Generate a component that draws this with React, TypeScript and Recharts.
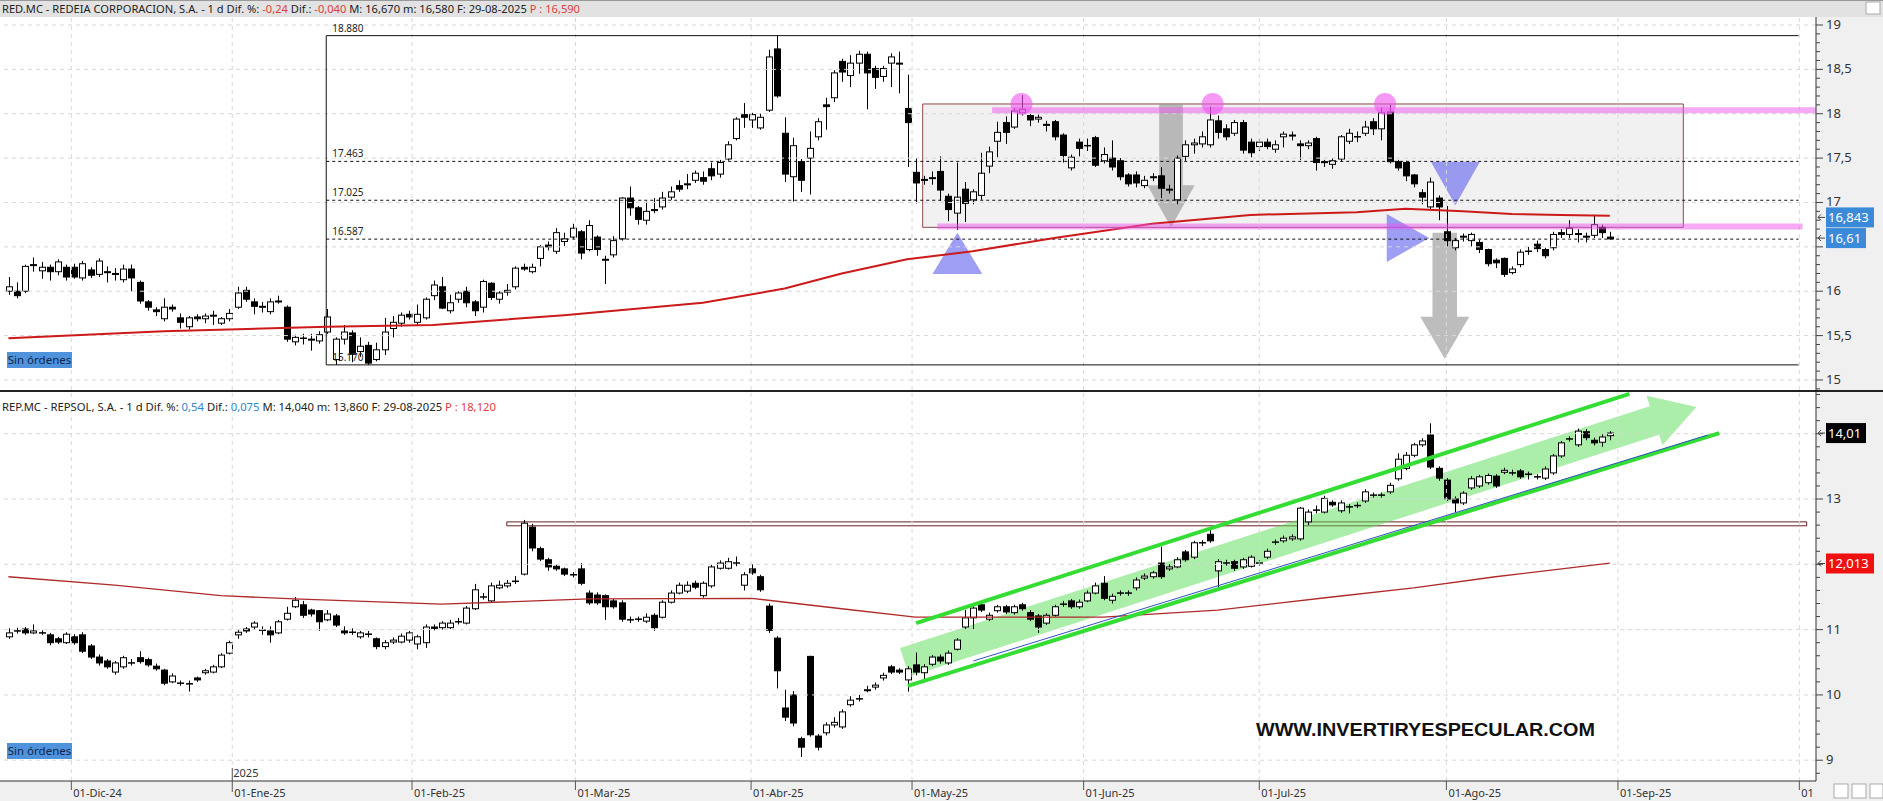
import React from "react";
import {
  ComposedChart,
  Bar,
  Line,
  XAxis,
  YAxis,
  ReferenceLine,
  ReferenceArea,
  ReferenceDot,
} from "recharts";

type Ohlc = [number, number, number, number]; // open, close, high, low

// RED.MC - REDEIA, daily candles by month
const RED_NOV: Ohlc[] = [
  [16.0, 16.05, 16.16, 15.96], [16.0, 15.95, 16.1, 15.92], [16.0, 16.28, 16.3, 15.98], [16.29, 16.3, 16.38, 16.22],
  [16.23, 16.27, 16.33, 16.14], [16.27, 16.22, 16.3, 16.12], [16.22, 16.33, 16.36, 16.18],
];
const RED_DEC: Ohlc[] = [
  [16.27, 16.16, 16.3, 16.12], [16.27, 16.16, 16.31, 16.14], [16.15, 16.31, 16.34, 16.12], [16.24, 16.18, 16.27, 16.15],
  [16.19, 16.34, 16.37, 16.16], [16.22, 16.21, 16.28, 16.1], [16.2, 16.19, 16.26, 16.12], [16.13, 16.25, 16.3, 16.1],
  [16.25, 16.15, 16.3, 16.0], [16.1, 15.89, 16.12, 15.86], [15.88, 15.82, 15.9, 15.78], [15.79, 15.77, 15.82, 15.72],
  [15.69, 15.82, 15.92, 15.66], [15.82, 15.8, 15.85, 15.77], [15.7, 15.65, 15.75, 15.58], [15.6, 15.7, 15.72, 15.57],
  [15.71, 15.69, 15.74, 15.66], [15.69, 15.72, 15.75, 15.64], [15.72, 15.73, 15.78, 15.62], [15.64, 15.69, 15.71, 15.62],
];
const RED_JAN: Ohlc[] = [
  [15.69, 15.75, 15.8, 15.66], [15.82, 15.98, 16.05, 15.8], [16.01, 15.91, 16.05, 15.88], [15.88, 15.83, 15.92, 15.74],
  [15.82, 15.83, 15.88, 15.76], [15.77, 15.88, 15.92, 15.74], [15.89, 15.88, 15.95, 15.86], [15.82, 15.46, 15.84, 15.43],
  [15.43, 15.48, 15.51, 15.39], [15.47, 15.47, 15.52, 15.4], [15.45, 15.46, 15.52, 15.33], [15.44, 15.51, 15.55, 15.41],
  [15.54, 15.71, 15.8, 15.52], [15.23, 15.46, 15.48, 15.17], [15.46, 15.54, 15.62, 15.4], [15.53, 15.29, 15.56, 15.2],
  [15.32, 15.38, 15.48, 15.26], [15.39, 15.19, 15.43, 15.17], [15.23, 15.34, 15.42, 15.21], [15.34, 15.54, 15.7, 15.28],
  [15.58, 15.65, 15.72, 15.48], [15.64, 15.73, 15.76, 15.6],
];
const RED_FEB: Ohlc[] = [
  [15.74, 15.71, 15.78, 15.68], [15.65, 15.74, 15.85, 15.62], [15.7, 15.91, 15.93, 15.68], [15.95, 16.07, 16.12, 15.9],
  [16.05, 15.81, 16.16, 15.8], [15.78, 15.87, 15.96, 15.75], [15.91, 15.98, 16.0, 15.87], [16.0, 15.87, 16.05, 15.82],
  [15.88, 15.78, 15.9, 15.72], [15.82, 16.11, 16.13, 15.76], [16.09, 15.93, 16.1, 15.9], [15.91, 15.98, 16.0, 15.86],
  [15.99, 16.01, 16.08, 15.95], [16.05, 16.26, 16.28, 16.02], [16.27, 16.25, 16.31, 16.23], [16.22, 16.27, 16.31, 16.2],
  [16.37, 16.5, 16.52, 16.28], [16.52, 16.5, 16.56, 16.46], [16.45, 16.66, 16.71, 16.42], [16.56, 16.59, 16.66, 16.51],
];
const RED_MAR: Ohlc[] = [
  [16.61, 16.71, 16.76, 16.59], [16.67, 16.43, 16.69, 16.36], [16.47, 16.74, 16.8, 16.45], [16.61, 16.47, 16.63, 16.4],
  [16.35, 16.36, 16.4, 16.08], [16.41, 16.57, 16.62, 16.38], [16.59, 17.05, 17.06, 16.57], [17.05, 16.94, 17.18, 16.85],
  [16.94, 16.81, 16.96, 16.75], [16.8, 16.9, 17.01, 16.75], [16.91, 16.92, 17.05, 16.88], [16.95, 17.05, 17.12, 16.92],
  [17.06, 17.12, 17.18, 17.03], [17.19, 17.15, 17.25, 17.12], [17.21, 17.2, 17.32, 17.15], [17.25, 17.33, 17.36, 17.22],
  [17.28, 17.24, 17.35, 17.2], [17.38, 17.3, 17.45, 17.25], [17.32, 17.45, 17.48, 17.28], [17.49, 17.65, 17.69, 17.47],
  [17.72, 17.94, 17.96, 17.7],
];
const RED_APR: Ohlc[] = [
  [17.99, 17.96, 18.12, 17.84], [17.93, 17.99, 18.01, 17.84], [17.84, 17.96, 18.0, 17.82], [18.04, 18.64, 18.72, 18.02],
  [18.73, 18.2, 18.88, 18.18], [17.78, 17.32, 17.96, 17.23], [17.29, 17.64, 17.73, 17.01], [17.46, 17.25, 17.49, 17.12],
  [17.5, 17.61, 17.8, 17.09], [17.74, 17.91, 17.95, 17.7], [18.1, 18.08, 18.18, 17.82], [18.18, 18.46, 18.49, 18.13],
  [18.59, 18.47, 18.62, 18.36], [18.43, 18.57, 18.66, 18.3], [18.57, 18.67, 18.71, 18.45], [18.67, 18.46, 18.7, 18.05],
  [18.51, 18.41, 18.54, 18.28], [18.42, 18.51, 18.54, 18.36], [18.57, 18.64, 18.68, 18.3], [18.56, 18.57, 18.7, 18.23],
];
const RED_MAY: Ohlc[] = [
  [18.06, 17.9, 18.44, 17.4], [17.34, 17.22, 17.5, 16.99], [17.25, 17.26, 17.3, 17.2], [17.27, 17.28, 17.35, 17.2],
  [17.35, 17.14, 17.52, 17.02], [17.07, 16.92, 17.1, 16.79], [16.88, 17.06, 17.45, 16.69], [17.15, 16.99, 17.23, 16.78],
  [17.03, 17.12, 17.15, 16.98], [17.08, 17.33, 17.56, 17.03], [17.41, 17.57, 17.63, 17.33], [17.69, 17.79, 17.91, 17.51],
  [17.9, 17.79, 17.97, 17.66], [17.85, 18.03, 18.06, 17.83], [18.01, 18.05, 18.21, 17.98], [17.98, 17.93, 18.0, 17.86],
  [17.94, 17.96, 17.99, 17.9], [17.87, 17.88, 17.92, 17.8], [17.91, 17.74, 17.93, 17.7], [17.76, 17.53, 17.78, 17.45],
  [17.39, 17.51, 17.54, 17.36],
];
const RED_JUN: Ohlc[] = [
  [17.68, 17.61, 17.72, 17.52], [17.64, 17.64, 17.72, 17.58], [17.73, 17.42, 17.75, 17.4], [17.47, 17.54, 17.62, 17.44],
  [17.5, 17.4, 17.7, 17.36], [17.47, 17.29, 17.5, 17.25], [17.31, 17.21, 17.33, 17.18], [17.31, 17.22, 17.35, 17.17],
  [17.19, 17.25, 17.3, 17.16], [17.29, 17.28, 17.33, 17.24], [17.3, 17.16, 17.4, 17.05], [17.14, 17.15, 17.2, 17.1],
  [17.03, 17.5, 17.53, 16.98], [17.52, 17.65, 17.7, 17.47], [17.65, 17.67, 17.72, 17.55], [17.66, 17.74, 17.8, 17.62],
  [17.65, 17.93, 18.08, 17.62], [17.92, 17.79, 17.98, 17.72], [17.83, 17.74, 17.88, 17.7], [17.78, 17.9, 17.93, 17.75],
  [17.9, 17.59, 17.93, 17.55],
];
const RED_JUL: Ohlc[] = [
  [17.68, 17.56, 17.72, 17.51], [17.63, 17.68, 17.72, 17.58], [17.68, 17.63, 17.72, 17.6], [17.6, 17.65, 17.7, 17.56],
  [17.74, 17.77, 17.8, 17.62], [17.75, 17.76, 17.8, 17.7], [17.66, 17.64, 17.7, 17.48], [17.64, 17.67, 17.7, 17.6],
  [17.72, 17.45, 17.74, 17.36], [17.46, 17.45, 17.48, 17.4], [17.43, 17.47, 17.5, 17.38], [17.49, 17.74, 17.76, 17.46],
  [17.69, 17.78, 17.83, 17.66], [17.74, 17.74, 17.8, 17.68], [17.78, 17.85, 17.92, 17.75], [17.91, 17.83, 17.95, 17.76],
  [17.83, 18.01, 18.07, 17.7], [18.02, 17.46, 18.1, 17.44], [17.46, 17.39, 17.48, 17.36], [17.45, 17.3, 17.47, 17.24],
  [17.31, 17.21, 17.32, 17.17], [17.11, 17.06, 17.15, 16.98], [16.95, 17.23, 17.28, 16.92],
];
const RED_AUG: Ohlc[] = [
  [17.05, 16.95, 17.08, 16.8], [16.67, 16.57, 16.96, 16.5], [16.49, 16.57, 16.6, 16.46], [16.61, 16.62, 16.65, 16.56],
  [16.57, 16.64, 16.66, 16.5], [16.55, 16.47, 16.58, 16.43], [16.47, 16.31, 16.48, 16.28], [16.35, 16.32, 16.37, 16.26],
  [16.37, 16.19, 16.38, 16.16], [16.21, 16.25, 16.28, 16.19], [16.3, 16.44, 16.47, 16.27], [16.45, 16.45, 16.5, 16.41],
  [16.53, 16.48, 16.57, 16.44], [16.47, 16.4, 16.49, 16.37], [16.49, 16.64, 16.67, 16.46], [16.66, 16.64, 16.7, 16.6],
  [16.64, 16.71, 16.8, 16.6], [16.64, 16.65, 16.7, 16.55], [16.61, 16.62, 16.66, 16.55], [16.63, 16.75, 16.86, 16.6],
  [16.72, 16.66, 16.75, 16.6], [16.61, 16.59, 16.67, 16.58],
];

// REP.MC - REPSOL, daily candles by month
const REP_NOV: Ohlc[] = [
  [10.89, 10.95, 11.02, 10.86], [10.98, 10.98, 11.03, 10.94], [11.01, 10.95, 11.04, 10.92], [10.95, 10.98, 11.08, 10.93],
  [10.95, 10.95, 10.99, 10.92], [10.92, 10.8, 10.95, 10.76], [10.86, 10.81, 10.89, 10.78],
];
const REP_DEC: Ohlc[] = [
  [10.8, 10.93, 10.96, 10.78], [10.89, 10.8, 10.93, 10.77], [10.92, 10.67, 10.96, 10.64], [10.75, 10.58, 10.78, 10.55],
  [10.58, 10.49, 10.62, 10.45], [10.52, 10.43, 10.55, 10.4], [10.35, 10.49, 10.52, 10.31], [10.43, 10.57, 10.6, 10.4],
  [10.49, 10.49, 10.55, 10.45], [10.57, 10.51, 10.67, 10.48], [10.54, 10.46, 10.57, 10.43], [10.44, 10.4, 10.48, 10.37],
  [10.38, 10.18, 10.4, 10.15], [10.2, 10.29, 10.33, 10.18], [10.18, 10.18, 10.22, 10.14], [10.17, 10.17, 10.22, 10.05],
  [10.26, 10.23, 10.28, 10.2], [10.34, 10.37, 10.4, 10.31], [10.35, 10.43, 10.46, 10.33], [10.43, 10.61, 10.64, 10.41],
];
const REP_JAN: Ohlc[] = [
  [10.64, 10.8, 10.83, 10.62], [10.92, 10.96, 11.0, 10.86], [11.01, 10.98, 11.04, 10.95], [11.04, 11.1, 11.13, 11.0],
  [10.99, 10.99, 11.05, 10.92], [10.98, 10.92, 11.05, 10.8], [10.95, 11.12, 11.15, 10.93], [11.16, 11.25, 11.35, 11.14],
  [11.35, 11.45, 11.5, 11.33], [11.38, 11.22, 11.44, 11.18], [11.3, 11.24, 11.32, 11.2], [11.29, 11.12, 11.3, 10.98],
  [11.15, 11.24, 11.3, 11.13], [11.21, 11.07, 11.24, 11.04], [10.98, 10.95, 11.05, 10.92], [10.96, 10.96, 11.02, 10.92],
  [10.89, 10.95, 10.98, 10.86], [10.93, 10.93, 10.98, 10.88], [10.86, 10.74, 10.88, 10.7], [10.74, 10.8, 10.84, 10.7],
  [10.81, 10.84, 10.88, 10.78], [10.81, 10.9, 10.94, 10.79],
];
const REP_FEB: Ohlc[] = [
  [10.84, 10.95, 10.98, 10.8], [10.78, 10.89, 10.92, 10.7], [10.8, 11.04, 11.08, 10.72], [11.04, 11.02, 11.08, 10.99],
  [11.03, 11.1, 11.13, 11.0], [11.03, 11.1, 11.15, 11.01], [11.12, 11.12, 11.18, 11.08], [11.1, 11.33, 11.36, 11.08],
  [11.32, 11.61, 11.7, 11.3], [11.5, 11.5, 11.56, 11.46], [11.44, 11.67, 11.72, 11.42], [11.64, 11.68, 11.75, 11.62],
  [11.67, 11.71, 11.76, 11.64], [11.74, 11.74, 11.82, 11.7], [11.85, 12.63, 12.68, 11.83], [12.57, 12.25, 12.62, 12.2],
  [12.24, 12.08, 12.27, 12.05], [12.07, 11.96, 12.1, 11.9], [11.97, 11.93, 12.0, 11.9], [11.93, 11.85, 11.95, 11.82],
];
const REP_MAR: Ohlc[] = [
  [11.84, 11.84, 11.88, 11.8], [11.93, 11.71, 12.02, 11.68], [11.56, 11.41, 11.6, 11.38], [11.53, 11.41, 11.57, 11.38],
  [11.52, 11.35, 11.54, 11.15], [11.44, 11.35, 11.47, 11.32], [11.41, 11.16, 11.45, 11.12], [11.15, 11.15, 11.2, 11.1],
  [11.16, 11.16, 11.2, 11.12], [11.13, 11.19, 11.25, 11.1], [11.22, 11.03, 11.25, 10.98], [11.19, 11.42, 11.45, 11.17],
  [11.42, 11.56, 11.6, 11.4], [11.56, 11.68, 11.72, 11.54], [11.59, 11.68, 11.74, 11.56], [11.71, 11.65, 11.75, 11.62],
  [11.52, 11.71, 11.74, 11.49], [11.67, 11.96, 11.99, 11.64], [11.94, 12.02, 12.06, 11.92], [11.94, 12.04, 12.1, 11.92],
  [12.02, 12.02, 12.12, 11.97],
];
const REP_APR: Ohlc[] = [
  [11.68, 11.84, 11.88, 11.6], [11.93, 11.87, 12.0, 11.84], [11.81, 11.61, 11.84, 11.58], [11.36, 10.99, 11.4, 10.95],
  [10.87, 10.37, 10.9, 10.1], [9.8, 9.66, 10.08, 9.6], [10.0, 9.57, 10.06, 9.52], [9.33, 9.2, 9.36, 9.05],
  [10.59, 9.39, 10.6, 9.36], [9.37, 9.2, 9.4, 9.15], [9.42, 9.54, 9.58, 9.38], [9.54, 9.58, 9.66, 9.5],
  [9.51, 9.74, 9.78, 9.48], [9.85, 9.92, 9.98, 9.82], [9.94, 9.94, 10.0, 9.9], [10.07, 10.08, 10.14, 10.04],
  [10.12, 10.15, 10.19, 10.08], [10.26, 10.3, 10.34, 10.22], [10.43, 10.35, 10.46, 10.32], [10.38, 10.35, 10.41, 10.32],
];
const REP_MAY: Ohlc[] = [
  [10.23, 10.4, 10.44, 10.05], [10.46, 10.35, 10.65, 10.3], [10.34, 10.43, 10.47, 10.2], [10.47, 10.58, 10.61, 10.44],
  [10.58, 10.52, 10.62, 10.48], [10.49, 10.64, 10.68, 10.46], [10.7, 10.84, 10.87, 10.68], [11.04, 11.18, 11.3, 11.0],
  [11.18, 11.33, 11.4, 11.0], [11.38, 11.3, 11.42, 11.27], [11.16, 11.22, 11.26, 11.13], [11.29, 11.35, 11.38, 11.26],
  [11.35, 11.27, 11.38, 11.24], [11.26, 11.35, 11.38, 11.23], [11.38, 11.32, 11.41, 11.29], [11.26, 11.16, 11.3, 11.13],
  [11.21, 11.04, 11.24, 10.95], [11.1, 11.22, 11.25, 11.07], [11.22, 11.35, 11.38, 11.2], [11.39, 11.39, 11.44, 11.35],
  [11.44, 11.35, 11.47, 11.32],
];
const REP_JUN: Ohlc[] = [
  [11.35, 11.42, 11.46, 11.32], [11.44, 11.56, 11.6, 11.42], [11.56, 11.67, 11.72, 11.54], [11.71, 11.48, 11.82, 11.45],
  [11.45, 11.51, 11.55, 11.4], [11.56, 11.56, 11.6, 11.52], [11.56, 11.56, 11.6, 11.52], [11.64, 11.76, 11.8, 11.6],
  [11.79, 11.82, 11.86, 11.76], [11.81, 11.87, 11.9, 11.78], [12.02, 11.81, 12.27, 11.78], [11.93, 11.96, 12.0, 11.9],
  [11.96, 12.07, 12.11, 11.94], [12.19, 12.07, 12.22, 12.04], [12.11, 12.33, 12.36, 12.08], [12.33, 12.33, 12.37, 12.28],
  [12.46, 12.36, 12.55, 12.33], [11.9, 12.04, 12.08, 11.65], [12.02, 12.02, 12.07, 11.98], [12.04, 11.94, 12.07, 11.9],
  [11.96, 12.07, 12.1, 11.93],
];
const REP_JUL: Ohlc[] = [
  [11.97, 12.11, 12.14, 11.95], [12.02, 12.02, 12.06, 11.98], [12.11, 12.2, 12.24, 12.08], [12.34, 12.34, 12.38, 12.3],
  [12.36, 12.4, 12.44, 12.33], [12.39, 12.42, 12.46, 12.36], [12.39, 12.86, 12.88, 12.36], [12.65, 12.8, 12.84, 12.6],
  [12.83, 12.83, 12.9, 12.78], [12.8, 13.01, 13.05, 12.78], [12.95, 12.91, 12.98, 12.88], [12.82, 12.94, 12.98, 12.79],
  [12.88, 12.88, 12.92, 12.78], [12.9, 12.9, 12.95, 12.86], [12.97, 13.11, 13.15, 12.94], [13.06, 13.06, 13.1, 13.02],
  [13.06, 13.06, 13.1, 13.02], [13.11, 13.21, 13.25, 13.08], [13.31, 13.61, 13.7, 13.28], [13.47, 13.67, 13.72, 13.44],
  [13.67, 13.83, 13.86, 13.64], [13.83, 13.89, 13.93, 13.8], [13.98, 13.49, 14.16, 13.46],
];
const REP_AUG: Ohlc[] = [
  [13.47, 13.32, 13.5, 13.28], [13.29, 13.0, 13.32, 12.97], [13.0, 12.94, 13.04, 12.8], [12.94, 13.09, 13.12, 12.91],
  [13.17, 13.31, 13.35, 13.14], [13.2, 13.34, 13.37, 13.17], [13.25, 13.36, 13.39, 13.22], [13.35, 13.2, 13.38, 13.17],
  [13.41, 13.44, 13.48, 13.38], [13.4, 13.4, 13.45, 13.36], [13.43, 13.34, 13.46, 13.31], [13.38, 13.38, 13.42, 13.3],
  [13.34, 13.34, 13.38, 13.3], [13.32, 13.46, 13.5, 13.29], [13.4, 13.66, 13.69, 13.37], [13.66, 13.86, 13.89, 13.63],
  [13.92, 13.92, 13.96, 13.88], [13.83, 14.04, 14.08, 13.8], [14.03, 13.94, 14.07, 13.9], [13.9, 13.86, 13.94, 13.82],
  [13.87, 13.95, 13.99, 13.8], [13.97, 14.01, 14.04, 13.9],
];

// moving averages, [candle index, value]
const RED_MA: [number, number][] = [
  [0, 15.47], [19, 15.55], [39, 15.6], [52, 15.62], [68, 15.73], [85, 15.87], [95, 16.03], [102, 16.2],
  [110, 16.36], [118, 16.45], [128, 16.6], [140, 16.76], [152, 16.86], [165, 16.89], [171, 16.93],
  [178, 16.9], [184, 16.87], [190, 16.86], [196, 16.85],
];
const REP_MA: [number, number][] = [
  [0, 11.81], [13, 11.68], [26, 11.52], [35, 11.47], [53, 11.39], [71, 11.47], [91, 11.48], [93, 11.45],
  [102, 11.32], [111, 11.19], [114, 11.19], [134, 11.19], [148, 11.3], [162, 11.5], [172, 11.64],
  [182, 11.81], [196, 12.02],
];

const MONTH_TICKS = [7.7, 27.4, 49.4, 69.4, 90.9, 110.6, 131.6, 153.1, 176, 197, 219.2];
const MONTH_LABELS = [
  "01-Dic-24", "01-Ene-25", "01-Feb-25", "01-Mar-25", "01-Abr-25", "01-May-25",
  "01-Jun-25", "01-Jul-25", "01-Ago-25", "01-Sep-25", "01",
];
const RED_Y_TICKS = [15, 15.5, 16, 16.5, 17, 17.5, 18, 18.5, 19];
const RED_Y_HIDDEN = [16.5]; // covered by the value tags
const REP_Y_TICKS = [9, 10, 11, 12, 13, 14];
const REP_Y_HIDDEN = [12, 14]; // covered by the value tags
const FIB_LEVELS = [18.88, 17.463, 17.025, 16.587, 15.17];

const FONT = "'Noto Sans', 'Open Sans', sans-serif";
const WIDTH = 1883;
const AXIS_W = 67;
const X_DOMAIN: [number, number] = [-1.03, 221.24];
const RED_DOMAIN: [number, number] = [14.887, 19.09];
const REP_DOMAIN: [number, number] = [8.682, 14.639];

type Row = { i: number; o: number; c: number; h: number; l: number; ma: number | null };

function buildRows(candles: Ohlc[], ma: [number, number][]): Row[] {
  const maAt = new Map(ma);
  return candles.map(([o, c, h, l], i) => ({ i, o, c, h, l, ma: maAt.get(i) ?? null }));
}

const redRows = buildRows(
  [...RED_NOV, ...RED_DEC, ...RED_JAN, ...RED_FEB, ...RED_MAR, ...RED_APR, ...RED_MAY, ...RED_JUN, ...RED_JUL, ...RED_AUG],
  RED_MA
);
const repRows = buildRows(
  [...REP_NOV, ...REP_DEC, ...REP_JAN, ...REP_FEB, ...REP_MAR, ...REP_APR, ...REP_MAY, ...REP_JUN, ...REP_JUL, ...REP_AUG],
  REP_MA
);

function minorTicks(from: number, to: number, step: number) {
  const out: number[] = [];
  for (let k = Math.ceil(from / step - 1e-9); k * step <= to + 1e-9; k++) out.push(+(k * step).toFixed(2));
  return out;
}
const redTicks = minorTicks(14.9, 19.0, 0.1);
const repTicks = minorTicks(8.8, 14.6, 0.2);

const fmt = (v: number) => String(v).replace(".", ",");

function Candle(props: any) {
  const { x, width, payload } = props;
  let { y, height } = props;
  if (!payload || y == null) return null;
  if (height < 0) {
    y += height;
    height = -height;
  }
  const { o, c, h, l } = payload as Row;
  const cx = Math.round(x + width / 2) + 0.5;
  const k = h > l ? height / (h - l) : 0;
  const py = (v: number) => y + (h - v) * k;
  const top = py(Math.max(o, c));
  const bot = py(Math.min(o, c));
  const flat = Math.abs(c - o) < 0.005;
  return (
    <g>
      <line x1={cx} x2={cx} y1={y} y2={y + height} stroke="#000" strokeWidth={1} />
      {flat ? (
        <line x1={cx - 3.5} x2={cx + 3.5} y1={top} y2={top} stroke="#000" strokeWidth={1.5} />
      ) : (
        <rect
          x={cx - 3}
          y={top}
          width={6}
          height={Math.max(bot - top, 1)}
          fill={c > o ? "#fff" : "#000"}
          stroke="#000"
          strokeWidth={1}
        />
      )}
    </g>
  );
}

function YTick(props: any) {
  const { x, y, payload, majors, hidden = [] } = props;
  const v = payload.value as number;
  const major = majors.some((m: number) => Math.abs(m - v) < 1e-6);
  const showLabel = major && !hidden.some((m: number) => Math.abs(m - v) < 1e-6);
  return (
    <g>
      <line x1={x} x2={x + (major ? 7 : 4)} y1={y} y2={y} stroke="#444" />
      {showLabel && (
        <text x={x + 10} y={y + 4} fontSize={13} fill="#333" fontFamily={FONT}>
          {fmt(v)}
        </text>
      )}
    </g>
  );
}

function XTick(props: any) {
  const { x, y, payload } = props;
  const idx = MONTH_TICKS.indexOf(payload.value);
  const isYear = idx === 1;
  return (
    <g>
      <line x1={x} x2={x} y1={isYear ? y - 13 : y} y2={y + (isYear ? 11 : 9)} stroke="#555" />
      {isYear && (
        <text x={x + 1} y={y - 4} fontSize={11} fill="#333" fontFamily={FONT}>
          2025
        </text>
      )}
      <text x={x + 2} y={y + 16} fontSize={11} fill="#333" fontFamily={FONT}>
        {MONTH_LABELS[idx]}
      </text>
    </g>
  );
}

function ValueTag(props: any) {
  const { viewBox, text, bg, w, dy = 0 } = props;
  if (!viewBox) return null;
  const x = viewBox.x + viewBox.width;
  const y = viewBox.y + dy;
  return (
    <g>
      <path d={`M${x + 2} ${y} L${x + 9} ${y} M${x + 2} ${y} L${x + 5} ${y - 3} M${x + 2} ${y} L${x + 5} ${y + 3}`} stroke="#444" fill="none" />
      <rect x={x + 10} y={y - 10} width={w} height={20} fill={bg} />
      <text x={x + 12} y={y + 5} fontSize={13} fill="#fff" fontFamily={FONT}>
        {text}
      </text>
    </g>
  );
}

const fibLabel = (text: string) => (p: any) => (
  <text x={p.cx + 6} y={p.cy - 4} fontSize={10} fill="#222" fontFamily={FONT}>
    {text}
  </text>
);

const downArrow = (p: any) => {
  const { x, y, width: w, height: h } = p;
  const cx = x + w / 2;
  const sw = w * 0.5;
  const yh = y + h - 42;
  const pts = `${cx - sw / 2},${y} ${cx + sw / 2},${y} ${cx + sw / 2},${yh} ${x + w},${yh} ${cx},${y + h} ${x},${yh} ${cx - sw / 2},${yh}`;
  return <polygon points={pts} fill="#999" fillOpacity={0.65} />;
};

const BLUE = "#6a6af0";
const triUp = (p: any) => (
  <polygon points={`${p.x},${p.y + p.height} ${p.x + p.width},${p.y + p.height} ${p.x + p.width / 2},${p.y}`} fill={BLUE} fillOpacity={0.65} />
);
const triDown = (p: any) => (
  <polygon points={`${p.x},${p.y} ${p.x + p.width},${p.y} ${p.x + p.width / 2},${p.y + p.height}`} fill={BLUE} fillOpacity={0.65} />
);
const triRight = (p: any) => (
  <polygon points={`${p.x},${p.y} ${p.x},${p.y + p.height} ${p.x + p.width},${p.y + p.height / 2}`} fill={BLUE} fillOpacity={0.65} />
);

const bandArrow = (p: any) => {
  const { x, y, width, height } = p;
  const sx = x, sy = y + height, tx = x + width, ty = y;
  const len = Math.hypot(tx - sx, ty - sy);
  const ux = (tx - sx) / len, uy = (ty - sy) / len;
  const nx = -uy, ny = ux;
  const hw = 15, headW = 26, headL = 44;
  const bx = tx - ux * headL, by = ty - uy * headL;
  const pts = [
    [sx + nx * hw, sy + ny * hw], [bx + nx * hw, by + ny * hw], [bx + nx * headW, by + ny * headW], [tx, ty],
    [bx - nx * headW, by - ny * headW], [bx - nx * hw, by - ny * hw], [sx - nx * hw, sy - ny * hw],
  ];
  return <polygon points={pts.map((q) => q.join(",")).join(" ")} fill="#55dd55" fillOpacity={0.5} />;
};

const PINK = "#ee55ee";
const GRID = "#d8d8d8";

function RedChart() {
  return (
    <ComposedChart width={WIDTH} height={391} data={redRows} margin={{ top: 17, right: 0, bottom: 1, left: 0 }}>
      <XAxis dataKey="i" type="number" domain={X_DOMAIN} allowDataOverflow hide ticks={MONTH_TICKS} />
      <YAxis
        orientation="right"
        width={AXIS_W}
        domain={RED_DOMAIN}
        allowDataOverflow
        ticks={redTicks}
        interval={0}
        tick={<YTick majors={RED_Y_TICKS} hidden={RED_Y_HIDDEN} />}
        tickLine={false}
        tickSize={0}
        tickMargin={0}
        axisLine={{ stroke: "#333" }}
      />
      {RED_Y_TICKS.map((v) => (
        <ReferenceLine key={"h" + v} y={v} stroke={GRID} strokeDasharray="4 4" />
      ))}
      {MONTH_TICKS.map((v) => (
        <ReferenceLine key={"v" + v} x={v} stroke={GRID} strokeDasharray="4 4" />
      ))}
      <ReferenceArea x1={111.9} x2={205} y1={16.72} y2={18.11} fill="#f1f1f1" fillOpacity={1} stroke="#8c4a4a" strokeWidth={1} />
      {FIB_LEVELS.map((v, k) => (
        <ReferenceLine
          key={"f" + v}
          segment={[{ x: 38.9, y: v }, { x: 219.1, y: v }]}
          stroke="#111"
          strokeDasharray={k === 0 || k === FIB_LEVELS.length - 1 ? undefined : "3 3"}
        />
      ))}
      <ReferenceLine segment={[{ x: 38.9, y: 15.17 }, { x: 38.9, y: 18.88 }]} stroke="#111" />
      <Bar dataKey={(r: Row) => [r.l, r.h]} barSize={7} shape={(p: any) => <Candle {...p} />} isAnimationActive={false} />
      <Line dataKey="ma" stroke="#cc1a1a" strokeWidth={2} dot={false} connectNulls isAnimationActive={false} />
      <ReferenceLine segment={[{ x: 120.4, y: 18.04 }, { x: 221.2, y: 18.04 }]} stroke={PINK} strokeOpacity={0.5} strokeWidth={6} />
      <ReferenceLine segment={[{ x: 113.7, y: 16.73 }, { x: 219.6, y: 16.73 }]} stroke={PINK} strokeOpacity={0.5} strokeWidth={6} />
      {[124, 147.4, 168.5].map((x) => (
        <ReferenceDot key={"c" + x} x={x} y={18.11} r={11} fill={PINK} fillOpacity={0.6} stroke="none" />
      ))}
      <ReferenceArea x1={139.4} x2={145.2} y1={16.72} y2={18.11} shape={downArrow} />
      <ReferenceArea x1={172.8} x2={178.8} y1={15.24} y2={16.66} shape={downArrow} />
      <ReferenceArea x1={113.1} x2={119.2} y1={16.195} y2={16.66} shape={triUp} />
      <ReferenceArea x1={174.1} x2={180.1} y1={16.97} y2={17.46} shape={triDown} />
      <ReferenceArea x1={168.7} x2={173.9} y1={16.33} y2={16.87} shape={triRight} />
      {FIB_LEVELS.map((v) => (
        <ReferenceDot key={"l" + v} x={38.9} y={v} r={1} shape={fibLabel(v.toFixed(3))} />
      ))}
      <ReferenceLine y={16.843} strokeOpacity={0} label={<ValueTag text="16,843" bg="#3b8ad9" w={48} dy={1} />} />
      <ReferenceLine y={16.61} strokeOpacity={0} label={<ValueTag text="16,61" bg="#3b8ad9" w={40} dy={1} />} />
    </ComposedChart>
  );
}

function RepChart() {
  return (
    <ComposedChart width={WIDTH} height={410} data={repRows} margin={{ top: 1, right: 0, bottom: 0, left: 0 }}>
      <XAxis
        dataKey="i"
        type="number"
        domain={X_DOMAIN}
        allowDataOverflow
        ticks={MONTH_TICKS}
        interval={0}
        height={20}
        tick={<XTick />}
        tickLine={false}
        tickSize={0}
        tickMargin={0}
        axisLine={{ stroke: "#333" }}
      />
      <YAxis
        orientation="right"
        width={AXIS_W}
        domain={REP_DOMAIN}
        allowDataOverflow
        ticks={repTicks}
        interval={0}
        tick={<YTick majors={REP_Y_TICKS} hidden={REP_Y_HIDDEN} />}
        tickLine={false}
        tickSize={0}
        tickMargin={0}
        axisLine={{ stroke: "#333" }}
      />
      {REP_Y_TICKS.map((v) => (
        <ReferenceLine key={"h" + v} y={v} stroke={GRID} strokeDasharray="4 4" />
      ))}
      {MONTH_TICKS.map((v) => (
        <ReferenceLine key={"v" + v} x={v} stroke={GRID} strokeDasharray="4 4" />
      ))}
      <ReferenceArea x1={61} x2={220.1} y1={12.59} y2={12.65} fill="#fff" fillOpacity={0} stroke="#6b1f1f" strokeWidth={1} />
      <Bar dataKey={(r: Row) => [r.l, r.h]} barSize={7} shape={(p: any) => <Candle {...p} />} isAnimationActive={false} />
      <Line dataKey="ma" stroke="#b02a2a" strokeWidth={1.3} dot={false} connectNulls isAnimationActive={false} />
      <ReferenceArea x1={109.7} x2={206.6} y1={10.5} y2={14.41} shape={bandArrow} />
      <ReferenceLine segment={[{ x: 111.1, y: 11.1 }, { x: 198.4, y: 14.61 }]} stroke="#33dd33" strokeWidth={4} />
      <ReferenceLine segment={[{ x: 110.1, y: 10.14 }, { x: 209.4, y: 14.01 }]} stroke="#33dd33" strokeWidth={4} />
      <ReferenceLine segment={[{ x: 118.1, y: 10.52 }, { x: 208, y: 13.98 }]} stroke="#3050c0" strokeWidth={1} />
      <ReferenceLine y={14.01} strokeOpacity={0} label={<ValueTag text="14,01" bg="#000" w={40} />} />
      <ReferenceLine y={12.013} strokeOpacity={0} label={<ValueTag text="12,013" bg="#f01010" w={48} />} />
    </ComposedChart>
  );
}

const boxStyle: React.CSSProperties = {
  position: "absolute",
  left: 7,
  width: 65,
  height: 16,
  background: "#4f93dc",
  color: "#14264a",
  fontFamily: FONT,
  fontSize: 11.5,
  lineHeight: "16px",
  textAlign: "center",
};

export default function App() {
  return (
    <div style={{ position: "absolute", left: 0, top: 0, width: WIDTH, height: 801, background: "#fff", overflow: "hidden" }}>
      {/* backgrounds */}
      <div style={{ position: "absolute", left: 0, top: 0, width: WIDTH, height: 16, background: "#e2e2e2", borderTop: "1px solid #999" }} />
      <div style={{ position: "absolute", left: 1816, top: 17, width: AXIS_W, height: 374, background: "#f0f0f0" }} />
      <div style={{ position: "absolute", left: 1816, top: 392, width: AXIS_W, height: 409, background: "#f0f0f0" }} />
      <div style={{ position: "absolute", left: 0, top: 781, width: WIDTH, height: 20, background: "#f0f0f0" }} />
      <div style={{ position: "absolute", left: 0, top: 0 }}>
        <RedChart />
      </div>
      <div style={{ position: "absolute", left: 0, top: 391 }}>
        <RepChart />
      </div>
      <div style={{ position: "absolute", left: 0, top: 390, width: WIDTH, height: 2, background: "#222" }} />
      <div style={{ ...boxStyle, top: 352 }}>Sin órdenes</div>
      <div style={{ ...boxStyle, top: 743 }}>Sin órdenes</div>
      <svg width={WIDTH} height={801} style={{ position: "absolute", left: 0, top: 0, pointerEvents: "none" }}>
        <text x={2} y={13} fontSize={11} fill="#222" fontFamily={FONT} textLength={578} lengthAdjust="spacingAndGlyphs">
          RED.MC - REDEIA CORPORACION, S.A. - 1 d Dif. %: <tspan fill="#e04040">-0,24</tspan> Dif.:{" "}
          <tspan fill="#e04040">-0,040</tspan> M: 16,670 m: 16,580 F: 29-08-2025 <tspan fill="#e04040">P : 16,590</tspan>
        </text>
        <text x={2} y={411} fontSize={11} fill="#222" fontFamily={FONT} textLength={494} lengthAdjust="spacingAndGlyphs">
          REP.MC - REPSOL, S.A. - 1 d Dif. %: <tspan fill="#2f86c8">0,54</tspan> Dif.: <tspan fill="#2f86c8">0,075</tspan> M:
          14,040 m: 13,860 F: 29-08-2025 <tspan fill="#e04040">P : 18,120</tspan>
        </text>
        <text
          x={1256}
          y={736}
          fontSize={18}
          fontWeight="bold"
          fill="#111"
          fontFamily="'Liberation Sans', Arial, sans-serif"
          textLength={339}
          lengthAdjust="spacingAndGlyphs"
        >
          WWW.INVERTIRYESPECULAR.COM
        </text>
        <rect x={1866} y={2} width={14} height={12} fill="#fff" stroke="#aaa" />
        <rect x={1834} y={784} width={14} height={14} fill="#fff" stroke="#aaa" />
        <rect x={1852} y={784} width={14} height={14} fill="#fff" stroke="#aaa" />
        <rect x={1870} y={784} width={13} height={14} fill="#fff" stroke="#aaa" />
      </svg>
    </div>
  );
}
